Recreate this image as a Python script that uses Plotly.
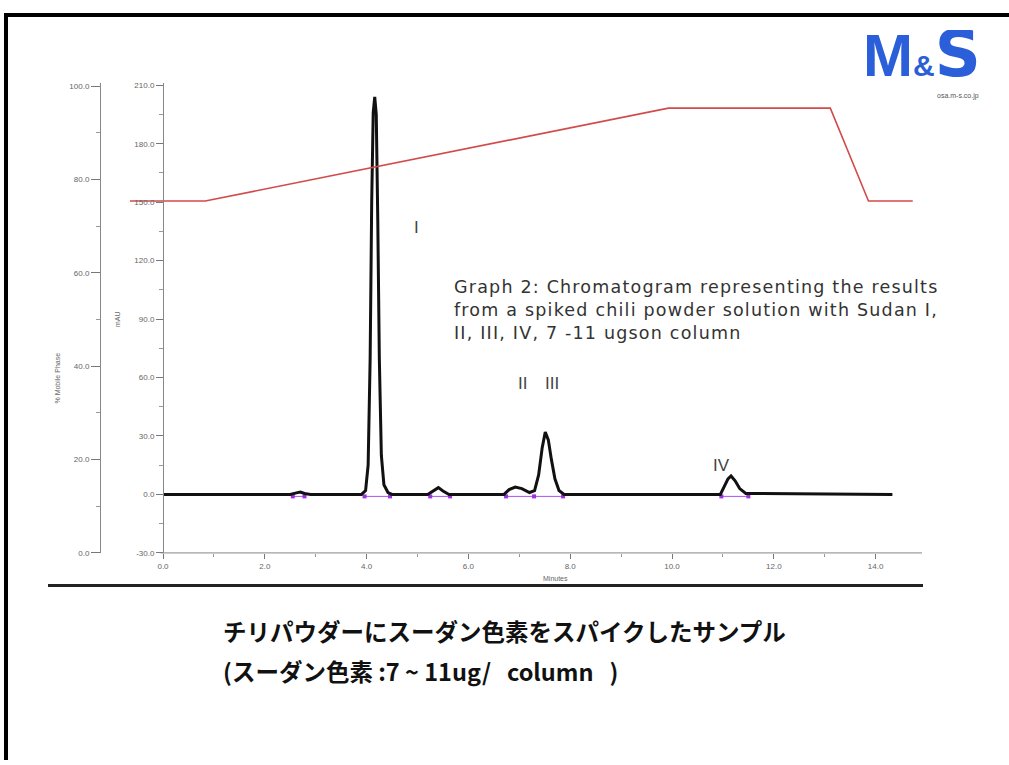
import plotly.graph_objects as go

W, H = 1009, 765

# ---- data ----
rt_min = [0.0, 2.5, 2.62, 2.7, 2.78, 2.9, 3.9, 3.98, 4.03, 4.07, 4.10, 4.13, 4.16, 4.19, 4.22, 4.25,
          4.29, 4.34, 4.42, 4.5, 5.2, 5.3, 5.41, 5.5, 5.62, 6.7, 6.8, 6.92, 7.05, 7.2, 7.3, 7.38,
          7.45, 7.51, 7.57, 7.63, 7.7, 7.78, 7.88, 10.95, 11.03, 11.1, 11.16, 11.24, 11.33, 11.45, 14.33]
signal_mau = [0, 0, 0.8, 1.2, 0.5, 0, 0, 2, 15, 70, 150, 196, 204, 195, 140, 70,
              20, 5, 1, 0, 0, 1.5, 3.5, 1.8, 0, 0, 2.5, 3.8, 3, 1, 2, 10,
              24, 32, 28, 18, 8, 2, 0, 0, 4, 8, 9.5, 7, 3, 0.5, 0]

grad_time = [-0.65, 0.83, 9.93, 13.11, 13.86, 14.73]
grad_pct = [75.4, 75.4, 95.3, 95.3, 75.4, 75.4]

integ_time = [2.55, 2.78, None, 3.96, 4.46, None, 5.25, 5.64, None, 6.74, 7.29, 7.86, None, 10.97, 11.5]
integ_mau = [-1, -1, None, -1, -1, None, -1, -1, None, -1, -1, -1, None, -1, -1]

x_ticks = [0, 2, 4, 6, 8, 10, 12, 14]
mau_ticks = [-30, 0, 30, 60, 90, 120, 150, 180, 210]
pct_ticks = [0, 20, 40, 60, 80, 100]

peak_labels = ["I", "II", "III", "IV"]


def fx(p):
    return p / W


def fy(p):
    return 1 - p / H


# plot area pixels
L, R, T, B = 130, 922, 82, 556
px_per_min = 50.9
x0 = -(163 - L) / px_per_min
x1 = x0 + (R - L) / px_per_min

fig = go.Figure()

fig.add_trace(go.Scatter(x=grad_time, y=grad_pct, mode="lines", yaxis="y2",
                         line=dict(color="#d24b4b", width=1.6), hoverinfo="skip"))
fig.add_trace(go.Scatter(x=integ_time, y=integ_mau, mode="lines+markers",
                         line=dict(color="#b050f0", width=1),
                         marker=dict(color="#a030e0", size=4, symbol="square"), hoverinfo="skip"))
fig.add_trace(go.Scatter(x=rt_min, y=signal_mau, mode="lines",
                         line=dict(color="#111111", width=3), hoverinfo="skip"))

tickfont = dict(family="Liberation Sans", size=8, color="#666666")

fig.update_layout(
    width=W, height=H, showlegend=False,
    margin=dict(l=0, r=0, t=0, b=0),
    paper_bgcolor="white", plot_bgcolor="white",
    font=dict(family="Liberation Sans"),
    xaxis=dict(domain=[fx(L), fx(R)], range=[x0, x1], showline=False, showgrid=False,
               zeroline=False, tickvals=x_ticks, ticktext=["%.1f" % v for v in x_ticks],
               ticks="outside", ticklen=5, tickcolor="#777", tickfont=tickfont,
               minor=dict(ticks="outside", ticklen=3, dtick=1, tickcolor="#999")),
    yaxis=dict(domain=[fy(B), fy(T)], range=[-30, -30 + (B - T) / (59 / 30)],
               anchor="free", position=fx(163), showline=True, linecolor="#888",
               linewidth=1, showgrid=False, zeroline=False,
               tickvals=mau_ticks, ticktext=["%.1f" % v for v in mau_ticks],
               ticks="outside", ticklen=7, tickcolor="#777", tickfont=tickfont,
               minor=dict(ticks="outside", ticklen=4, dtick=15, tick0=-30, tickcolor="#999")),
    yaxis2=dict(overlaying="y", anchor="free", position=fx(100), side="left",
                range=[0, (B - T) / 4.71], showline=True, linecolor="#888", linewidth=1,
                showgrid=False, zeroline=False,
                tickvals=pct_ticks, ticktext=["%.1f" % v for v in pct_ticks],
                ticks="outside", ticklen=9, tickcolor="#777", tickfont=tickfont,
                minor=dict(ticks="outside", ticklen=4, dtick=10, tickcolor="#999")),
)

shapes = [
    # x-axis line
    dict(type="line", xref="x", yref="paper", x0=-0.05, x1=x1, y0=fy(B), y1=fy(B),
         line=dict(color="#888", width=1)),
    # separator
    dict(type="line", xref="paper", yref="paper", x0=fx(48), x1=fx(923), y0=fy(589), y1=fy(589),
         line=dict(color="#222", width=3)),
    # frame top + left
    dict(type="line", xref="paper", yref="paper", x0=fx(4), x1=1, y0=fy(13), y1=fy(13),
         line=dict(color="black", width=4)),
    dict(type="line", xref="paper", yref="paper", x0=fx(6), x1=fx(6), y0=fy(11), y1=0,
         line=dict(color="black", width=4)),
]
fig.update_layout(shapes=shapes)

ann = []


def A(text, x, y, size, color="#333", bold=False, xanchor="center", angle=0, family="Liberation Sans",
      yanchor="middle", **kw):
    if bold:
        text = "<b>" + text + "</b>"
    ann.append(dict(text=text, x=fx(x), y=fy(y), xref="paper", yref="paper", showarrow=False,
                    xanchor=xanchor, yanchor=yanchor, textangle=angle,
                    font=dict(size=size, color=color, family=family), **kw))


A("% Mobile Phase", 58, 380, 7, color="#666", angle=-90)
A("mAU", 117, 320, 7, color="#666", angle=-90)
A("Minutes", 555, 582, 7, color="#666")

A(peak_labels[0], 416, 228, 17, color="#444")
A(peak_labels[1], 522, 385, 17, color="#444")
A(peak_labels[2], 552, 385, 17, color="#444")
A(peak_labels[3], 721, 468, 17, color="#444")

graph_lines = ["Graph 2: Chromatogram representing the results",
               "from a spiked chili powder solution with Sudan I,",
               "II, III, IV, 7 -11 ugson column"]
A("<br>".join("<span style='letter-spacing:1.2px'>" + t + "</span>" for t in graph_lines),
  452, 311, 17.5, color="#333", xanchor="left", align="left", family="DejaVu Sans")

A("チリパウダーにスーダン色素をスパイクしたサンプル", 221, 635, 23.5, color="#111", bold=True,
  xanchor="left", family="Noto Sans CJK JP")
A("(スーダン色素 :7 ~ 11ug/&nbsp;&nbsp;&nbsp;column&nbsp;&nbsp;&nbsp;)", 221, 675, 23.5, color="#111",
  bold=True, xanchor="left", family="Noto Sans CJK JP")

# logo
A("M<span style='font-size:30px'>&amp;</span><span style='font-family:DejaVu Sans;font-size:64px'>S</span>",
  922, 52, 60, color="#2b5fd9", bold=True, height=48)
A("osa.m-s.co.jp", 958, 95, 7, color="#555")

fig.update_layout(annotations=ann)

fig.write_html("out.html", config={"displayModeBar": False},
               post_script="document.body.style.margin='0px';")
